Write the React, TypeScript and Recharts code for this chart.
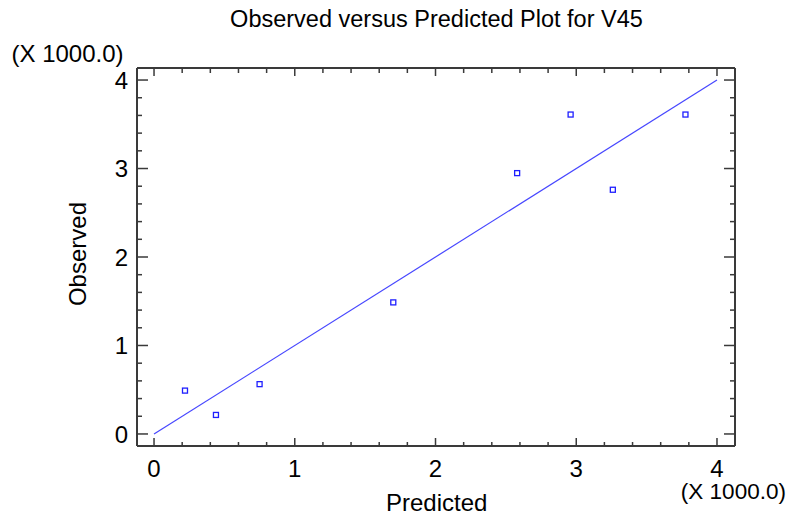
import React from "react";
import { ComposedChart, XAxis, YAxis, Scatter, ReferenceLine } from "recharts";

const predicted = [220, 440, 750, 1700, 2580, 2960, 3260, 3776];
const observed = [490, 215, 563, 1487, 2948, 3610, 2760, 3610];
const majorTicks = [0, 1000, 2000, 3000, 4000];
const minorTicks = [
  200, 400, 600, 800, 1200, 1400, 1600, 1800, 2200, 2400, 2600, 2800, 3200, 3400, 3600, 3800,
];
const fitLine = [
  { x: 0, y: 0 },
  { x: 4000, y: 4000 },
];
const xDomain = [-121, 4128];
const yDomain = [-136, 4136];

const points = predicted.map((p, i) => ({ x: p, y: observed[i] }));
const allTicks = [...majorTicks, ...minorTicks].sort((a, b) => a - b);
const isMajor = (v: number) => majorTicks.includes(v);

const AXIS = "#3a3a3a";
const FONT = "'Liberation Sans', Arial, sans-serif";
const POINT = "#1f1fff";
const LINE = "#4646ff";

const fmt = (v: number) => String(v / 1000);

const BottomTick = (p: any) => {
  const major = isMajor(p.payload.value);
  return (
    <g>
      <line x1={p.x} y1={p.y} x2={p.x} y2={p.y - (major ? 8 : 4)} stroke={AXIS} strokeWidth={1.5} />
      {major && (
        <text x={p.x} y={p.y + 30.5} textAnchor="middle" fontSize={24} fontFamily={FONT} fill="#000">
          {fmt(p.payload.value)}
        </text>
      )}
    </g>
  );
};
const TopTick = (p: any) => {
  const major = isMajor(p.payload.value);
  return <line x1={p.x} y1={p.y} x2={p.x} y2={p.y + (major ? 8 : 5)} stroke={AXIS} strokeWidth={1.5} />;
};
const LeftTick = (p: any) => {
  const major = isMajor(p.payload.value);
  return (
    <g>
      <line x1={p.x} y1={p.y} x2={p.x + (major ? 11 : 5)} y2={p.y} stroke={AXIS} strokeWidth={1.5} />
      {major && (
        <text x={p.x - 9} y={p.y + 8.6} textAnchor="end" fontSize={24} fontFamily={FONT} fill="#000">
          {fmt(p.payload.value)}
        </text>
      )}
    </g>
  );
};
const RightTick = (p: any) => {
  const major = isMajor(p.payload.value);
  return <line x1={p.x} y1={p.y} x2={p.x - (major ? 11 : 5)} y2={p.y} stroke={AXIS} strokeWidth={1.5} />;
};

const SquareMark = (p: any) => (
  <rect
    x={p.cx - 2.5}
    y={p.cy - 2.5}
    width={5}
    height={5}
    fill="none"
    stroke={POINT}
    strokeWidth={1.3}
  />
);

const axisLine = { stroke: AXIS, strokeWidth: 2 };

export default function App() {
  return (
    <div style={{ position: "absolute", left: 0, top: 0, width: 793, height: 517, background: "#fff" }}>
      <ComposedChart
        width={793}
        height={517}
        margin={{ top: 67, right: 57, bottom: 70, left: 136 }}
      >
        <XAxis xAxisId="b" type="number" dataKey="x" domain={xDomain} ticks={allTicks} interval={0}
          height={1} tickSize={0} tickMargin={0} tickLine={false} axisLine={axisLine}
          tick={<BottomTick />} allowDataOverflow />
        <XAxis xAxisId="t" orientation="top" type="number" dataKey="x" domain={xDomain} ticks={allTicks} interval={0}
          height={1} tickSize={0} tickMargin={0} tickLine={false} axisLine={axisLine}
          tick={<TopTick />} allowDataOverflow />
        <YAxis yAxisId="l" type="number" dataKey="y" domain={yDomain} ticks={allTicks} interval={0}
          width={1} tickSize={0} tickMargin={0} tickLine={false} axisLine={axisLine}
          tick={<LeftTick />} allowDataOverflow />
        <YAxis yAxisId="r" orientation="right" type="number" dataKey="y" domain={yDomain} ticks={allTicks} interval={0}
          width={1} tickSize={0} tickMargin={0} tickLine={false} axisLine={axisLine}
          tick={<RightTick />} allowDataOverflow />
        <ReferenceLine
          xAxisId="b"
          yAxisId="l"
          segment={fitLine}
          stroke={LINE}
          strokeWidth={1.2}
          ifOverflow="visible"
        />
        <Scatter
          xAxisId="b"
          yAxisId="l"
          data={points}
          dataKey="y"
          shape={<SquareMark />}
          isAnimationActive={false}
        />
      </ComposedChart>
      <svg
        width={793}
        height={517}
        style={{ position: "absolute", left: 0, top: 0, pointerEvents: "none" }}
      >
        <text x={436.5} y={27.3} textAnchor="middle" fontSize={23.5} fontFamily={FONT} fill="#000">
          Observed versus Predicted Plot for V45
        </text>
        <text x={11.5} y={62.3} fontSize={24} fontFamily={FONT} fill="#000">
          (X 1000.0)
        </text>
        <text x={85.7} y={254} textAnchor="middle" fontSize={24} fontFamily={FONT} fill="#000"
          transform="rotate(-90, 85.7, 254)">
          Observed
        </text>
        <text x={436.7} y={510.7} textAnchor="middle" fontSize={24} fontFamily={FONT} fill="#000">
          Predicted
        </text>
        <text x={733.4} y={499} textAnchor="middle" fontSize={22.5} fontFamily={FONT} fill="#000">
          (X 1000.0)
        </text>
      </svg>
    </div>
  );
}
